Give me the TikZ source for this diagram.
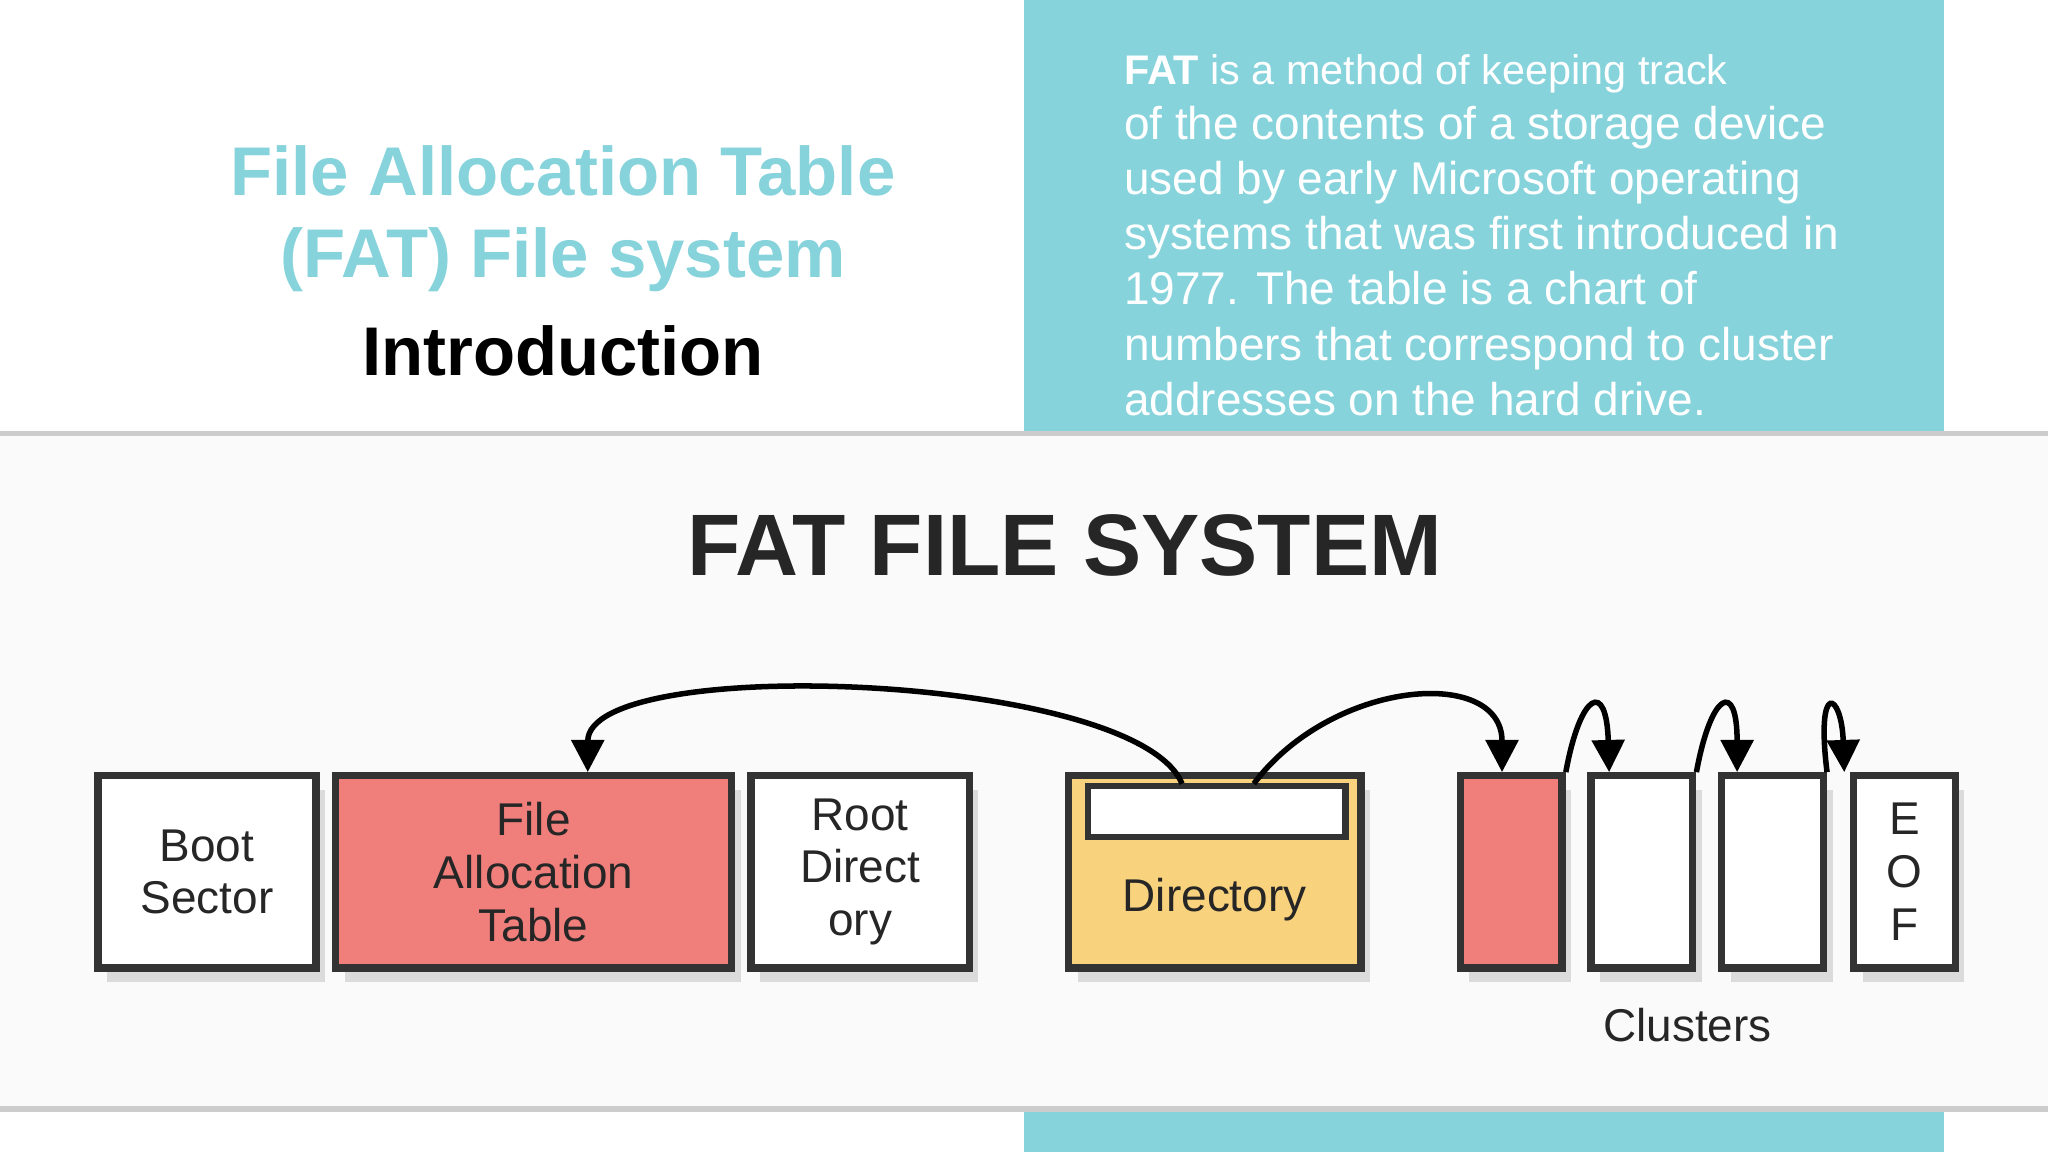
\documentclass[tikz,border=0pt]{standalone}
\usepackage{fontspec}
\setmainfont{Liberation Sans}
\usetikzlibrary{arrows.meta,shadows}
\definecolor{teal1}{HTML}{86D3DC}
\definecolor{redbox}{HTML}{F07F7C}
\definecolor{yelbox}{HTML}{F8D27C}
\tikzset{
 blk/.style={draw=black!80,line width=1.6pt,drop shadow={shadow xshift=2pt,shadow yshift=-3pt,opacity=0.25}},
 lbl/.style={font=\fontsize{10}{11.5}\selectfont,text=black!85,align=center},
 arr/.style={line width=1.2pt,-{Triangle[length=7pt,width=7pt]}}
}
\begin{document}
\begin{tikzpicture}[x=0.01cm,y=-0.01cm]
\useasboundingbox (0,0) rectangle (1568,882);
\fill[white] (0,0) rectangle (1568,882);
\fill[black!2] (0,333) rectangle (1568,848);
\fill[teal1] (784,0) rectangle (1488,332);
\fill[teal1] (784,850) rectangle (1488,882);
\draw[black!20,line width=1.2pt] (0,332) -- (1568,332);
\draw[black!20,line width=1.2pt] (0,849) -- (1568,849);
% titles
\node (t1) at (431,131) {\fontsize{15}{18}\selectfont\bfseries\color{teal1}File Allocation Table};
\node (t2) at (431,199) {\fontsize{15}{18}\selectfont\bfseries\color{teal1}(FAT) File system};
\node (t3) at (431,269) {\fontsize{15}{18}\selectfont\bfseries Introduction};
\node[anchor=north west,text=white,align=left,inner sep=0pt] (desc) at (860,41)
 {\fontsize{9}{11.9}\selectfont\textbf{FAT} is a method of keeping track\\of the contents of a storage device\\used by early Microsoft operating\\systems that was first introduced in\\1977. The table is a chart of\\numbers that correspond to cluster\\addresses on the hard drive.};
\node (fs) at (815,418) {\fontsize{19}{22}\selectfont\color{black!85}\textbf{FAT FILE SYSTEM}};
% boxes
\node[blk,fill=white,minimum width=1.67cm,minimum height=1.47cm,lbl] (boot) at (158.5,667.5) {Boot\\Sector};
\node[blk,fill=redbox,minimum width=3.03cm,minimum height=1.47cm,lbl] (fat) at (408.5,667.5) {File\\Allocation\\Table};
\node[blk,fill=white,minimum width=1.67cm,minimum height=1.47cm,lbl] (root) at (658.5,667.5) {Root\\Direct\\ory};
\node[blk,fill=yelbox,minimum width=2.24cm,minimum height=1.47cm] (dir) at (930,667.5) {};
\node[draw=black!80,line width=1.4pt,fill=white,minimum width=1.97cm,minimum height=0.39cm,inner sep=0pt] (dirin) at (931.5,621.5) {};
\node[lbl] (dirl) at (930,689) {Directory};
\node[blk,fill=redbox,minimum width=0.78cm,minimum height=1.47cm] (c1) at (1157,667.5) {};
\node[blk,fill=white,minimum width=0.78cm,minimum height=1.47cm] (c2) at (1257,667.5) {};
\node[blk,fill=white,minimum width=0.78cm,minimum height=1.47cm] (c3) at (1357,667.5) {};
\node[blk,fill=white,minimum width=0.78cm,minimum height=1.47cm,lbl] (c4) at (1458,667.5) {E\\O\\F};
\node[lbl] (cl) at (1292,785) {Clusters};
% arrows
\coordinate (a1) at (905,600);
\coordinate (a2) at (960,600);
\draw[arr] (a1) .. controls (870,515) and (450,500) .. (fat.north -| 450,0);
\draw[arr] (a2) .. controls (1020,520) and (1150,510) .. (c1.north -| 1150,0);
\draw[arr] (c1.north east) .. controls (1210,530) and (1230,520) .. (c2.north -| 1232,0);
\draw[arr] (c2.north east) .. controls (1310,530) and (1330,520) .. (c3.north -| 1330,0);
\draw[arr] (c3.north east) .. controls (1390,520) and (1410,530) .. (c4.north -| 1412,0);
\end{tikzpicture}
\end{document}
